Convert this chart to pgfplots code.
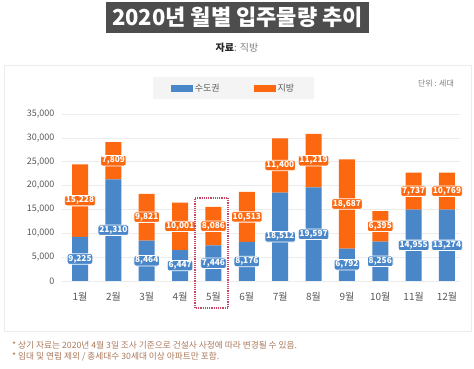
\documentclass[border=0pt]{standalone}
\usepackage{fontspec}
\setmainfont{Noto Sans CJK KR}
\usepackage{pgfplots}
\pgfplotsset{compat=1.18}
\definecolor{cblue}{RGB}{74,135,201}
\definecolor{corange}{RGB}{252,104,16}
\definecolor{titlebg}{RGB}{77,77,77}
\definecolor{foot}{RGB}{170,120,90}
\definecolor{tickc}{RGB}{90,90,90}
\definecolor{dotred}{RGB}{200,70,100}
\begin{document}
\begin{tikzpicture}
\useasboundingbox (0,0) rectangle (474pt,369pt);
% title
\fill[titlebg] (106pt,336pt) rectangle (369pt,367pt);
\node[text=white, font=\fontsize{22}{24}\selectfont\bfseries] at (237.5pt,351.5pt) {2020년 월별 입주물량 추이};
\node[font=\fontsize{10}{12}\selectfont] at (237pt,321pt) {\textcolor{black!85}{\bfseries 자료}\textcolor{gray}{ : 직방}};
% panel
\draw[fill=white, draw=gray!15, line width=0.8pt] (4pt,38pt) rectangle (471pt,304pt);
\node[font=\fontsize{8}{9}\selectfont, text=gray] at (436pt,285pt) {단위 : 세대};
% footnotes
\node[anchor=west, font=\fontsize{8.7}{10}\selectfont, text=foot, inner sep=0pt] at (12pt,24pt) {* 상기 자료는 2020년 4월 3일 조사 기준으로 건설사 사정에 따라 변경될 수 있음.};
\node[anchor=west, font=\fontsize{8.7}{10}\selectfont, text=foot, inner sep=0pt] at (12pt,12pt) {* 임대 및 연립 제외 / 총세대수 30세대 이상 아파트만 포함.};
\begin{axis}[
  at={(62pt,88pt)}, anchor=south west,
  scale only axis, width=398pt, height=167pt,
  xmin=0.46, xmax=12.39, ymin=0, ymax=35000,
  ybar stacked, bar width=16pt,
  axis line style={draw=none},
  major tick length=0pt,
  ymajorgrids, major grid style={gray!15, line width=0.6pt},
  ytick={5000,10000,...,35000},
  extra y ticks={0}, extra y tick style={grid style={gray!35, line width=0.8pt}},
  scaled y ticks=false,
  /pgf/number format/.cd, 1000 sep={,}, assume math mode=true, /pgfplots/.cd,
  yticklabel style={font=\fontsize{9}{10}\selectfont, text=tickc, xshift=-4pt},
  xtick={1,...,12},
  xticklabels={1월,2월,3월,4월,5월,6월,7월,8월,9월,10월,11월,12월},
  xticklabel style={font=\fontsize{10}{12}\selectfont, text=tickc, yshift=-8pt},
  legend image code/.code={\fill[#1] (0pt,-3.5pt) rectangle (22pt,3.5pt);},
  legend style={at={(0.431,1.153)}, anchor=center, fill=gray!9, draw=none,
    legend columns=2, font=\fontsize{9}{10}\selectfont, text=tickc,
    /tikz/every even column/.append style={column sep=32pt},
    inner xsep=18pt, inner ysep=4.5pt},
]
% bar heights as drawn in the picture (December drawn equal to November)
\addplot[fill=cblue, draw=none] coordinates {(1,9225) (2,21310) (3,8464) (4,6447) (5,7446) (6,8176) (7,18512) (8,19597) (9,6792) (10,8256) (11,14955) (12,14955)};
\addplot[fill=corange, draw=none] coordinates {(1,15228) (2,7809) (3,9821) (4,10001) (5,8086) (6,10513) (7,11400) (8,11219) (9,18687) (10,6395) (11,7737) (12,7737)};
\legend{수도권, 지방}
\end{axis}
\begin{axis}[
  at={(62pt,88pt)}, anchor=south west,
  scale only axis, width=398pt, height=167pt,
  xmin=0.46, xmax=12.39, ymin=0, ymax=35000,
  hide axis, clip=false,
  /pgf/number format/.cd, 1000 sep={,}, assume math mode=true, /pgfplots/.cd,
]
\addplot[draw=none, mark=none, point meta=explicit, nodes near coords,
  every node near coord/.style={anchor=center, fill=cblue, draw=white, line width=0.8pt, rounded corners=2pt, text=white, inner sep=1.2pt, font=\fontsize{8.3}{9}\selectfont\bfseries}]
  coordinates {(1,4612.5)[9225] (2,10655)[21310] (3,4232)[8464] (4,3223.5)[6447] (5,3723)[7446] (6,4088)[8176] (7,9256)[18512] (8,9798.5)[19597] (9,3396)[6792] (10,4128)[8256] (11,7477.5)[14955] (12,7477.5)[13274]};
\addplot[draw=none, mark=none, point meta=explicit, nodes near coords,
  every node near coord/.style={anchor=center, fill=corange, draw=white, line width=0.8pt, rounded corners=2pt, text=white, inner sep=1.2pt, font=\fontsize{8.3}{9}\selectfont\bfseries}]
  coordinates {(1,16839)[15228] (2,25214.5)[7809] (3,13374.5)[9821] (4,11447.5)[10001] (5,11489)[8086] (6,13432.5)[10513] (7,24212)[11400] (8,25206.5)[11219] (9,16135.5)[18687] (10,11453.5)[6395] (11,18823.5)[7737] (12,18823.5)[10769]};
\end{axis}
\draw[dotred, densely dotted, line width=1.2pt] (195pt,61pt) rectangle (228pt,171pt);
\end{tikzpicture}
\end{document}
